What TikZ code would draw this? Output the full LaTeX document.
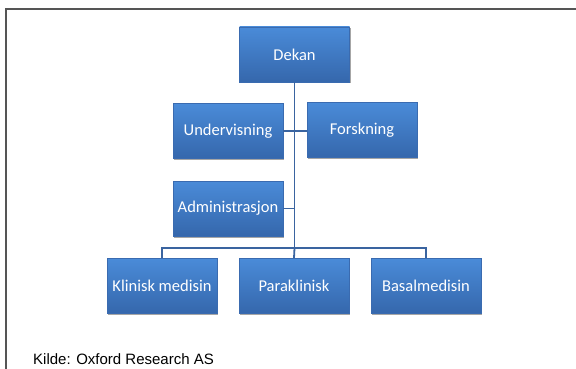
\documentclass[tikz,border=0pt]{standalone}
\usepackage{fontspec}
\setmainfont{Liberation Sans}
\newfontfamily\boxfont{Carlito}
\usetikzlibrary{shadows}
\definecolor{boxtop}{HTML}{4A8BD8}
\definecolor{boxbot}{HTML}{3567AC}
\definecolor{boxedge}{HTML}{3A6BB0}
\definecolor{linkcol}{HTML}{3A64A0}
\definecolor{framecol}{HTML}{555555}
\tikzset{
  orgbox/.style={draw=boxedge, line width=0.6pt, top color=boxtop, bottom color=boxbot,
    minimum width=110pt, minimum height=55pt, inner sep=0pt,
    text=white, font=\boxfont\fontsize{16.5}{18}\selectfont,
    drop shadow={shadow xshift=1.2pt, shadow yshift=-1.5pt, opacity=0.35, fill=black}},
  link/.style={draw=linkcol, line width=1.8pt},
  framestyle/.style={draw=framecol, line width=1.6pt}
}
\begin{document}
\begin{tikzpicture}[x=1pt,y=1pt]
\useasboundingbox (0,0) rectangle (576,-369);
\draw[framestyle] (576,-9) -- (6,-9) -- (6,-369);
\node[orgbox] (dekan) at (294.5,-54.5) {Dekan};
\node[orgbox] (under) at (228,-131) {Undervisning};
\node[orgbox] (forsk) at (362,-130) {Forskning};
\node[orgbox] (admin) at (228,-208.5) {Administrasjon};
\node[orgbox] (klin) at (162,-286) {Klinisk medisin};
\node[orgbox] (para) at (294,-286) {Paraklinisk};
\node[orgbox] (basal) at (426,-286) {Basalmedisin};
\coordinate (bus) at (294.5,-248);
\coordinate (spineA) at (294.5,-131);
\coordinate (spineB) at (294.5,-208.5);
\draw[link] (dekan.south) -- (bus);
\draw[link] (under.east) -- (spineA) -- (forsk.west |- spineA);
\draw[link] (admin.east) -- (spineB);
\draw[link] (klin.north) -- (klin.north |- bus) -- (basal.north |- bus) -- (basal.north);
\draw[link] (bus) -- (para.north);
\node[anchor=base west, inner sep=0pt, font=\fontsize{15}{17}\selectfont] (kilde) at (33,-364) {Kilde: Oxford Research AS};
\end{tikzpicture}
\end{document}
